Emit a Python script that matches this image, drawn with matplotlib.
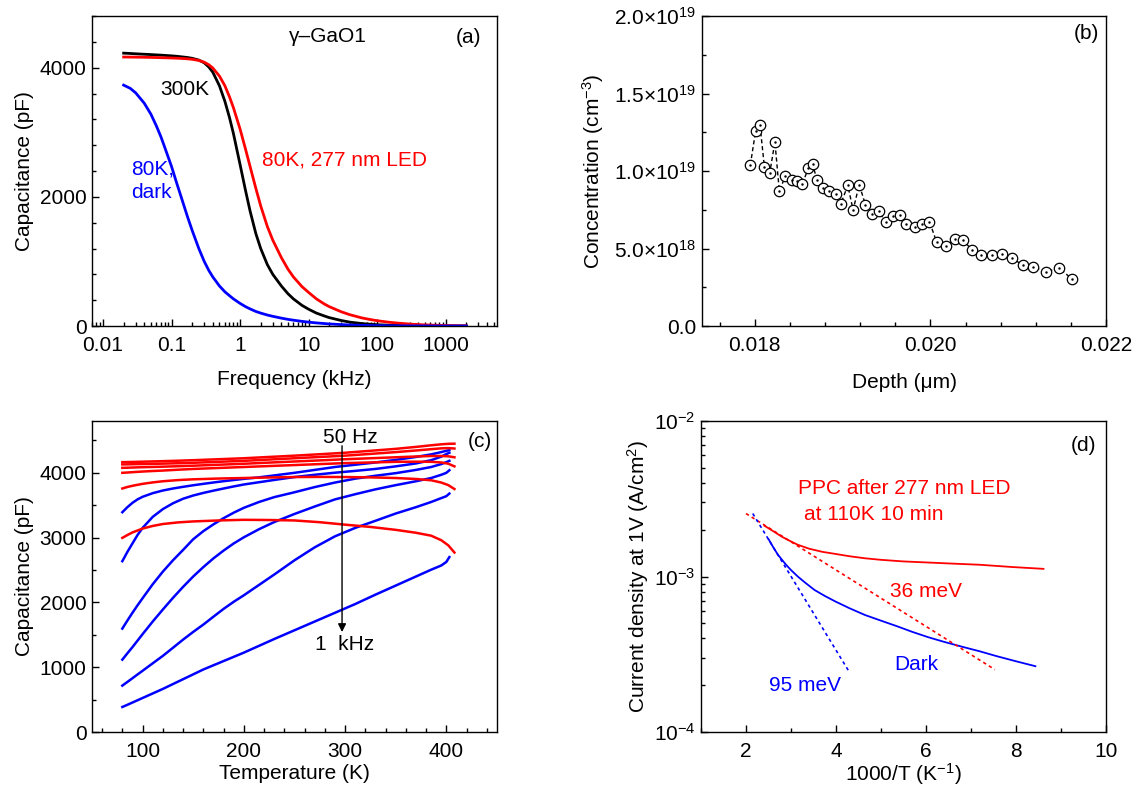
import matplotlib
matplotlib.use("Agg")
import matplotlib.pyplot as plt
from matplotlib.ticker import MultipleLocator, FixedLocator, FixedFormatter, LogLocator, NullFormatter

plt.rcParams['font.family'] = ['Liberation Sans', 'DejaVu Sans']
plt.rcParams['mathtext.fontset'] = 'custom'
plt.rcParams['mathtext.rm'] = 'Liberation Sans'
plt.rcParams['mathtext.it'] = 'Liberation Sans:italic'
plt.rcParams['mathtext.default'] = 'regular'
plt.rcParams['font.size'] = 15

# (a) capacitance vs frequency
freq_khz = [0.02, 0.025, 0.03, 0.04, 0.05, 0.06, 0.07, 0.08, 0.1, 0.12, 0.14, 0.17, 0.2, 0.25,
            0.3, 0.35, 0.4, 0.5, 0.6, 0.7, 0.8, 1.0, 1.2, 1.4, 1.7, 2.0, 2.5, 3.0, 4.0, 5.0,
            6.0, 8.0, 10, 13, 17, 20, 30, 40, 60, 80, 100, 150, 200, 300, 500, 1000, 2000]
cap_300k = [4225, 4220, 4215, 4208, 4203, 4198, 4194, 4190, 4183, 4176, 4168, 4158, 4145, 4118,
            4075, 4010, 3930, 3720, 3480, 3230, 2980, 2500, 2100, 1780, 1430, 1200, 950, 800, 620, 500,
            420, 320, 260, 200, 155, 130, 85, 60, 38, 27, 20, 12, 8, 5, 3, 1, 0]
cap_80k_led = [4165, 4164, 4163, 4161, 4159, 4157, 4155, 4153, 4150, 4147, 4143, 4137, 4130, 4112,
               4085, 4045, 3995, 3870, 3720, 3550, 3380, 3050, 2740, 2470, 2130, 1860, 1540, 1330, 1060, 880,
               760, 610, 520, 420, 340, 300, 220, 175, 125, 100, 82, 58, 45, 30, 17, 7, 2]
cap_80k_dark = [3730, 3680, 3610, 3450, 3280, 3100, 2930, 2760, 2470, 2200, 1980, 1700, 1480, 1200,
                1000, 860, 760, 620, 530, 470, 420, 350, 300, 265, 225, 200, 170, 150, 122, 103,
                90, 72, 60, 48, 38, 32, 22, 16, 10, 7, 6, 4, 3, 2, 1, 0, 0]
freq_ticks = [0.01, 0.1, 1, 10, 100, 1000]
freq_labels = ['0.01', '0.1', '1', '10', '100', '1000']

# (b) concentration profile
depth_um = [0.01795, 0.01801, 0.01806, 0.01811, 0.01817, 0.01823, 0.01828, 0.01835, 0.01842,
            0.01848, 0.01854, 0.01861, 0.01866, 0.01871, 0.01878, 0.01885, 0.01892, 0.01898,
            0.01906, 0.01912, 0.01919, 0.01926, 0.01933, 0.01941, 0.01949, 0.01958, 0.01965,
            0.01972, 0.01982, 0.01990, 0.01999, 0.02007, 0.02018, 0.02028, 0.02037, 0.02047,
            0.02058, 0.02070, 0.02081, 0.02093, 0.02105, 0.02117, 0.02132, 0.02146, 0.02161]
conc = [10.39, 12.58, 12.95, 10.28, 9.85, 11.87, 8.71, 9.68, 9.44, 9.33, 9.14, 10.17, 10.43,
        9.40, 8.92, 8.71, 8.54, 7.87, 9.08, 7.48, 9.12, 7.83, 7.25, 7.40, 6.73, 7.10, 7.16,
        6.58, 6.37, 6.58, 6.73, 5.44, 5.16, 5.63, 5.57, 4.92, 4.58, 4.58, 4.62, 4.37, 3.94,
        3.81, 3.48, 3.76, 3.05]  # x1e18 cm^-3
conc_ticks = [0, 5e18, 1e19, 1.5e19, 2e19]
conc_labels = ['0.0', '5.0×10$^{18}$', '1.0×10$^{19}$', '1.5×10$^{19}$', '2.0×10$^{19}$']
depth_ticks = [0.018, 0.020, 0.022]
depth_labels = ['0.018', '0.020', '0.022']

# (c) capacitance vs temperature, 50 Hz ... 1 kHz
temp_dark = [80, 85, 90, 95, 100, 110, 120, 130, 140, 150, 160, 170, 180, 190, 200, 215, 230,
             250, 270, 290, 310, 330, 350, 370, 385, 395, 400, 403]
cap_dark = [
    [3392, 3470, 3537, 3590, 3630, 3686, 3727, 3758, 3784, 3808, 3830, 3851, 3871, 3889, 3907, 3930, 3960,
     4000, 4045, 4090, 4125, 4160, 4200, 4245, 4285, 4320, 4340, 4350],
    [2636, 2780, 2910, 3040, 3150, 3320, 3440, 3530, 3600, 3650, 3690, 3725, 3758, 3790, 3820, 3855, 3890,
     3935, 3970, 4002, 4030, 4060, 4100, 4145, 4195, 4250, 4290, 4310],
    [1596, 1720, 1840, 1955, 2065, 2280, 2475, 2650, 2810, 2975, 3100, 3205, 3300, 3385, 3460, 3550, 3625,
     3700, 3780, 3850, 3910, 3955, 3995, 4045, 4090, 4135, 4165, 4185],
    [1117, 1215, 1310, 1410, 1510, 1705, 1890, 2070, 2240, 2400, 2545, 2680, 2800, 2910, 3005, 3130, 3240,
     3365, 3480, 3590, 3670, 3745, 3810, 3870, 3920, 3970, 4000, 4040],
    [716, 773, 830, 888, 945, 1060, 1175, 1300, 1426, 1545, 1658, 1780, 1900, 2010, 2110, 2270, 2430,
     2650, 2850, 3020, 3150, 3260, 3372, 3470, 3550, 3610, 3640, 3680],
    [386, 420, 455, 490, 525, 595, 665, 740, 815, 890, 965, 1030, 1095, 1160, 1225, 1330, 1435,
     1570, 1705, 1840, 1975, 2120, 2260, 2400, 2505, 2570, 2625, 2700],
]
temp_led = [80, 85, 90, 100, 110, 120, 135, 150, 175, 200, 225, 250, 275, 300, 325, 350, 370,
            385, 395, 402, 408]
cap_led = [
    [4165, 4166, 4168, 4172, 4176, 4180, 4187, 4195, 4210, 4225, 4245, 4265, 4287, 4310, 4340, 4370, 4400,
     4425, 4440, 4448, 4450],
    [4130, 4131, 4133, 4136, 4139, 4142, 4148, 4155, 4170, 4185, 4205, 4225, 4245, 4265, 4292, 4320, 4345,
     4365, 4378, 4382, 4375],
    [4077, 4079, 4082, 4087, 4091, 4095, 4102, 4110, 4125, 4140, 4158, 4175, 4192, 4210, 4225, 4240, 4252,
     4260, 4260, 4255, 4240],
    [4000, 4005, 4010, 4020, 4028, 4035, 4048, 4060, 4075, 4090, 4105, 4120, 4135, 4150, 4160, 4170, 4172,
     4170, 4160, 4140, 4100],
    [3758, 3782, 3800, 3830, 3852, 3870, 3888, 3900, 3912, 3920, 3928, 3935, 3937, 3935, 3930, 3920, 3905,
     3885, 3850, 3810, 3750],
    [2996, 3040, 3080, 3140, 3180, 3210, 3235, 3250, 3265, 3275, 3272, 3265, 3238, 3200, 3165, 3120, 3075,
     3030, 2960, 2880, 2770],
]

# (d) current density vs 1000/T
inv_t_ppc = [2.41, 2.6, 2.8, 3.0, 3.15, 3.4, 3.7, 3.9, 4.3, 4.64, 5.0, 5.5, 6.05, 6.6, 7.19, 7.93, 8.61]
j_ppc = [2.12e-3, 1.96e-3, 1.80e-3, 1.68e-3, 1.60e-3, 1.51e-3, 1.44e-3, 1.41e-3, 1.35e-3, 1.31e-3,
         1.28e-3, 1.25e-3, 1.23e-3, 1.21e-3, 1.19e-3, 1.15e-3, 1.12e-3]
inv_t_dark = [2.5, 2.6, 2.71, 2.8, 2.89, 3.0, 3.15, 3.3, 3.52, 3.75, 3.99, 4.3, 4.64, 5.0, 5.38,
              5.7, 6.05, 6.4, 6.81, 7.2, 7.56, 8.0, 8.43]
j_dark = [1.74e-3, 1.55e-3, 1.38e-3, 1.28e-3, 1.19e-3, 1.10e-3, 1.0e-3, 9.2e-4, 8.2e-4, 7.5e-4,
          6.9e-4, 6.25e-4, 5.66e-4, 5.2e-4, 4.76e-4, 4.4e-4, 4.07e-4, 3.8e-4, 3.53e-4, 3.3e-4,
          3.08e-4, 2.85e-4, 2.65e-4]
fit_36_x = [2.0, 7.53]
fit_36_y = [2.54e-3, 2.52e-4]
fit_95_x = [2.15, 4.27]
fit_95_y = [2.54e-3, 2.50e-4]

RED = '#ff0000'
BLUE = '#0000ff'

fig = plt.figure(figsize=(11.38, 7.85), dpi=100)
ax_a = fig.add_axes([0.0808, 0.5847, 0.3559, 0.3949])
ax_b = fig.add_axes([0.6169, 0.5847, 0.3550, 0.3949])
ax_c = fig.add_axes([0.0808, 0.0675, 0.3559, 0.3962])
ax_d = fig.add_axes([0.6160, 0.0675, 0.3559, 0.3962])


def style(ax):
    for s in ax.spines.values():
        s.set_linewidth(1.0)
    ax.tick_params(which='both', direction='in', top=False, right=False, labelsize=15, width=1)
    ax.tick_params(which='major', length=5)
    ax.tick_params(which='minor', length=3)
    ax.tick_params(axis='x', which='both', pad=7)
    ax.tick_params(axis='y', which='both', pad=4)


# panel (a)
ax_a.plot(freq_khz, cap_300k, color='k', lw=2)
ax_a.plot(freq_khz, cap_80k_led, color=RED, lw=2)
ax_a.plot(freq_khz, cap_80k_dark, color=BLUE, lw=2)
ax_a.set_xscale('log')
ax_a.set_xlim(0.0069, 5600)
ax_a.set_ylim(0, 4800)
ax_a.xaxis.set_major_locator(FixedLocator(freq_ticks))
ax_a.xaxis.set_major_formatter(FixedFormatter(freq_labels))
ax_a.xaxis.set_minor_locator(LogLocator(base=10, subs=range(2, 10), numticks=20))
ax_a.xaxis.set_minor_formatter(NullFormatter())
ax_a.yaxis.set_major_locator(MultipleLocator(2000))
ax_a.yaxis.set_minor_locator(MultipleLocator(400))
ax_a.set_xlabel('Frequency (kHz)', labelpad=11)
ax_a.set_ylabel('Capacitance (pF)', labelpad=4)
ax_a.text(19, 4490, 'γ–GaO1', ha='center', va='center')
ax_a.text(2140, 4465, '(a)', ha='center', va='center')
ax_a.text(0.068, 3665, '300K', ha='left', va='center', color='k')
ax_a.text(2.07, 2565, '80K, 277 nm LED', ha='left', va='center', color=RED)
ax_a.text(0.026, 2250, '80K,\ndark', ha='left', va='center', color=BLUE, linespacing=1.3)
style(ax_a)

# panel (b)
conc_abs = [c * 1e18 for c in conc]
ax_b.plot(depth_um, conc_abs, color='k', lw=1, ls=(0, (3, 2)), marker='o', ms=7.5,
          mfc='white', mec='k', mew=0.9)
ax_b.plot(depth_um, conc_abs, ls='none', marker='.', ms=1.5, color='k')
ax_b.set_xlim(0.0174, 0.022)
ax_b.set_ylim(0, 2e19)
ax_b.yaxis.set_major_locator(FixedLocator(conc_ticks))
ax_b.yaxis.set_major_formatter(FixedFormatter(conc_labels))
ax_b.yaxis.set_minor_locator(MultipleLocator(2.5e18))
ax_b.xaxis.set_major_locator(FixedLocator(depth_ticks))
ax_b.xaxis.set_major_formatter(FixedFormatter(depth_labels))
ax_b.xaxis.set_minor_locator(MultipleLocator(0.0004))
ax_b.set_xlabel('Depth (μm)', labelpad=13)
ax_b.set_ylabel('Concentration (cm$^{-3}$)', labelpad=6)
ax_b.text(0.02178, 1.89e19, '(b)', ha='center', va='center')
style(ax_b)

# panel (c)
for row in cap_dark:
    ax_c.plot(temp_dark, row, color=BLUE, lw=1.8)
for row in cap_led:
    ax_c.plot(temp_led, row, color=RED, lw=1.8)
ax_c.set_xlim(50, 450)
ax_c.set_ylim(0, 4800)
ax_c.xaxis.set_major_locator(MultipleLocator(100))
ax_c.xaxis.set_minor_locator(MultipleLocator(20))
ax_c.yaxis.set_major_locator(MultipleLocator(1000))
ax_c.yaxis.set_minor_locator(MultipleLocator(500))
ax_c.set_xlabel('Temperature (K)', labelpad=2)
ax_c.set_ylabel('Capacitance (pF)', labelpad=4)
ax_c.annotate('', xy=(297, 1500), xytext=(297, 4460),
              arrowprops=dict(arrowstyle='-|>', color='k', lw=1, mutation_scale=12))
ax_c.text(305, 4540, '50 Hz', ha='center', va='center')
ax_c.text(299, 1349, '1  kHz', ha='center', va='center')
ax_c.text(433, 4479, '(c)', ha='center', va='center')
style(ax_c)

# panel (d)
ax_d.semilogy(inv_t_ppc, j_ppc, color=RED, lw=1.3)
ax_d.semilogy(inv_t_dark, j_dark, color=BLUE, lw=1.3)
ax_d.semilogy(fit_36_x, fit_36_y, color=RED, lw=1.2, ls=(0, (2, 2)))
ax_d.semilogy(fit_95_x, fit_95_y, color=BLUE, lw=1.2, ls=(0, (2, 2)))
ax_d.set_xlim(1, 10)
ax_d.set_ylim(1e-4, 1e-2)
ax_d.xaxis.set_major_locator(MultipleLocator(2))
ax_d.xaxis.set_minor_locator(MultipleLocator(1))
ax_d.yaxis.set_minor_locator(LogLocator(base=10, subs=range(2, 10), numticks=10))
ax_d.yaxis.set_minor_formatter(NullFormatter())
ax_d.set_xlabel('1000/T (K$^{-1}$)', labelpad=0)
ax_d.set_ylabel('Current density at 1V (A/cm$^2$)', labelpad=2)
ax_d.text(3.16, 3.68e-3, 'PPC after 277 nm LED', color=RED, ha='left', va='center')
ax_d.text(3.29, 2.51e-3, 'at 110K 10 min', color=RED, ha='left', va='center')
ax_d.text(5.2, 8.0e-4, '36 meV', color=RED, ha='left', va='center')
ax_d.text(5.3, 2.7e-4, 'Dark', color=BLUE, ha='left', va='center')
ax_d.text(2.5, 2.0e-4, '95 meV', color=BLUE, ha='left', va='center')
ax_d.text(9.5, 7.0e-3, '(d)', ha='center', va='center')
style(ax_d)

fig.savefig('out.png', dpi=100)
